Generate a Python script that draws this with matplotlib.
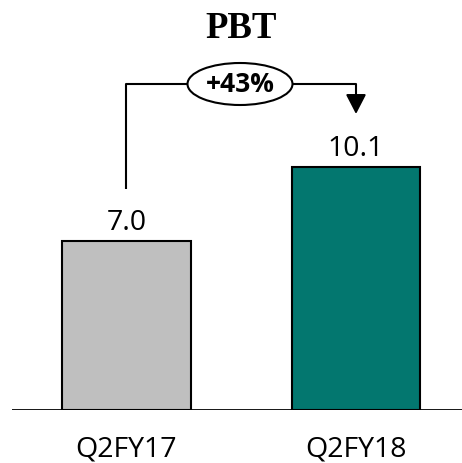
import matplotlib
matplotlib.use("Agg")
import matplotlib.pyplot as plt
from matplotlib.patches import Ellipse

categories = ["Q2FY17", "Q2FY18"]
values = [7.0, 10.1]
value_labels = ["7.0", "10.1"]
growth_label = "+43%"
title = "PBT"
bar_colors = ["#BFBFBF", "#03776F"]

W, H = 462, 464
fig = plt.figure(figsize=(W / 100, H / 100), dpi=100)
base_px = 411
ax = fig.add_axes([12 / W, (H - base_px) / H, 450 / W, base_px / H])

px_per_x = 229.5
px_per_y = 24.08
ax.set_xlim(-(126.5 - 12) / px_per_x, 1 + (462 - 356) / px_per_x)
ax.set_ylim(0, base_px / px_per_y)

x = list(range(len(categories)))
ax.bar(x, values, width=128 / px_per_x, color=bar_colors,
       edgecolor="black", linewidth=1.5, zorder=2)

font = ["Open Sans", "DejaVu Sans"]
for xi, v, lab in zip(x, values, value_labels):
    ax.text(xi, v + 12 / px_per_y, lab, ha="center", va="baseline",
            fontsize=20.5, family=font)
for xi, c in zip(x, categories):
    ax.text(xi, -46 / px_per_y, c, ha="center", va="baseline",
            fontsize=20.5, family=font)

# growth connector from the first bar to the second
y_top = (base_px - 85) / px_per_y
y_start = (base_px - 190) / px_per_y
y_tip = (base_px - 115) / px_per_y
ax.plot([x[0], x[0], x[1], x[1]], [y_start, y_top, y_top, y_tip + 0.6],
        color="black", lw=1.5, zorder=3, solid_capstyle="butt")
ax.annotate("", xy=(x[1], y_tip), xytext=(x[1], y_tip + 0.75),
            arrowprops=dict(arrowstyle="-|>,head_length=1.2,head_width=0.62",
                            color="black", lw=1.5, shrinkA=0, shrinkB=0))
ex = (240 - 126.5) / px_per_x
ax.add_patch(Ellipse((ex, y_top), 105 / px_per_x, 42 / px_per_y,
                     facecolor="white", edgecolor="black", lw=1.5, zorder=4))
ax.text(ex, y_top, growth_label, ha="center", va="center", fontsize=19,
        fontweight="bold", family=font, zorder=5)

ax.axhline(0, color="black", lw=2.0, zorder=3)
for s in ax.spines.values():
    s.set_visible(False)
ax.set_xticks([])
ax.set_yticks([])
ax.patch.set_alpha(0)

fig.text(241 / W, 1 - 38 / H, title, ha="center", va="baseline",
         fontsize=26.5, fontweight="bold", family=["Liberation Serif"])

fig.savefig("out.png", dpi=100)
